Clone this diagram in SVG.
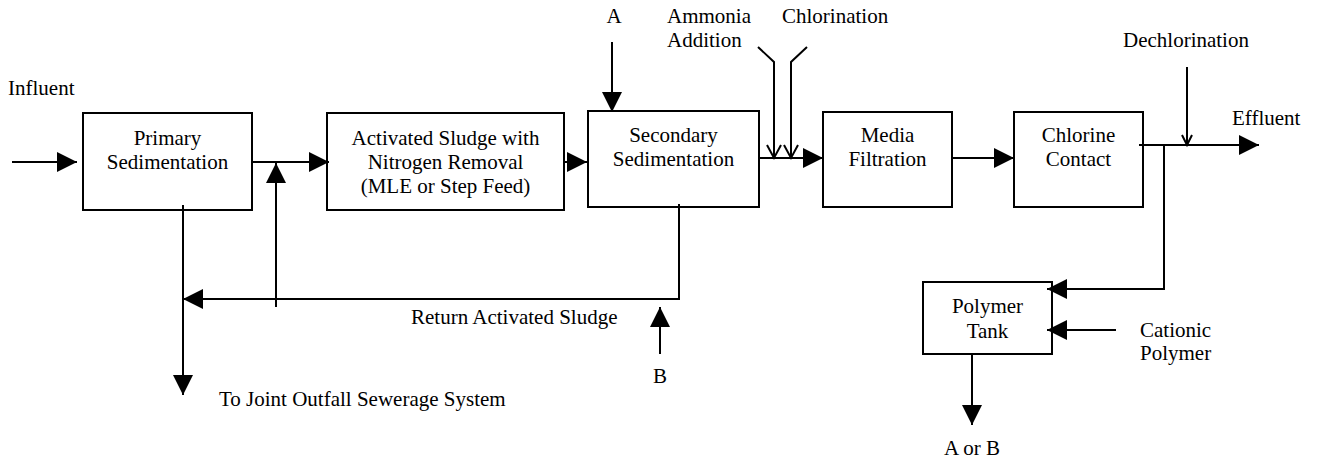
<svg xmlns="http://www.w3.org/2000/svg" width="1317" height="460" viewBox="0 0 1317 460">
<style>
.box{fill:#fff;stroke:#000;stroke-width:2}
.t{font-family:'Times New Roman','Liberation Serif','DejaVu Serif',serif;font-size:21px;fill:#000}
.c{text-anchor:middle}
.ln{fill:none;stroke:#000;stroke-width:2}
.arr{marker-end:url(#fa)}
.opn{marker-end:url(#oa)}
</style>
<defs>
<marker id="fa" markerUnits="userSpaceOnUse" markerWidth="21" markerHeight="21" refX="20" refY="10" orient="auto" overflow="visible">
<path d="M0,0 L20,10 L0,20 z" fill="#000"/>
</marker>
<marker id="oa" markerUnits="userSpaceOnUse" markerWidth="16" markerHeight="16" refX="13" refY="7" orient="auto" overflow="visible">
<path d="M0,0 L13,7 L0,14" fill="none" stroke="#000" stroke-width="2"/>
</marker>
<marker id="ob" markerUnits="userSpaceOnUse" markerWidth="12" markerHeight="12" refX="10" refY="5" orient="auto" overflow="visible">
<path d="M0,0 L10,5 L0,10" fill="none" stroke="#000" stroke-width="2"/>
</marker>
</defs>
<rect width="1317" height="460" fill="#fff"/>

<g id="primary">
<rect class="box" x="83" y="113" width="169" height="97"/>
<text class="t c" x="167.5" y="145">Primary</text>
<text class="t c" x="167.5" y="169">Sedimentation</text>
</g>
<g id="activated">
<rect class="box" x="327" y="113" width="237" height="97"/>
<text class="t c" x="445.5" y="145">Activated Sludge with</text>
<text class="t c" x="445.5" y="169">Nitrogen Removal</text>
<text class="t c" x="445.5" y="193">(MLE or Step Feed)</text>
</g>
<g id="secondary">
<rect class="box" x="588" y="111" width="171" height="96"/>
<text class="t c" x="673.5" y="142">Secondary</text>
<text class="t c" x="673.5" y="166">Sedimentation</text>
</g>
<g id="media">
<rect class="box" x="823" y="112" width="129" height="95"/>
<text class="t c" x="887.5" y="142">Media</text>
<text class="t c" x="887.5" y="166">Filtration</text>
</g>
<g id="chlorine">
<rect class="box" x="1014" y="112" width="129" height="95"/>
<text class="t c" x="1078.5" y="142">Chlorine</text>
<text class="t c" x="1078.5" y="166">Contact</text>
</g>
<g id="polymer">
<rect class="box" x="923" y="282" width="129" height="72"/>
<text class="t c" x="987.5" y="313">Polymer</text>
<text class="t c" x="987.5" y="338">Tank</text>
</g>

<g id="connectors">
<path class="ln arr" d="M12,162 L77,162"/>
<path class="ln arr" d="M252,162 L329,162"/>
<path class="ln arr" d="M276,307 L276,163"/>
<path class="ln arr" d="M564,162 L587,162"/>
<path class="ln arr" d="M612,42 L612,112"/>
<path class="ln arr" d="M759,158 L823,158"/>
<path class="ln opn" d="M758,47 L774,62 L774,158"/>
<path class="ln opn" d="M807,47 L791,62 L791,158"/>
<path class="ln arr" d="M952,158 L1014,158"/>
<path class="ln arr" d="M1139,145 L1259,145"/>
<path class="ln" d="M1187,67 L1187,145" marker-end="url(#ob)"/>
<path class="ln arr" d="M1164,145 L1164,289 L1047,289"/>
<path class="ln arr" d="M1116,330 L1047,330"/>
<path class="ln arr" d="M972,354 L972,425"/>
<path class="ln arr" d="M679,204 L679,299 L183,299"/>
<path class="ln arr" d="M183,205 L183,395"/>
<path class="ln arr" d="M660,354 L660,307"/>
</g>

<g id="labels">
<text class="t" x="8" y="95">Influent</text>
<text class="t c" x="614" y="23">A</text>
<text class="t" x="667" y="23">Ammonia</text>
<text class="t" x="667" y="47">Addition</text>
<text class="t" x="782" y="23">Chlorination</text>
<text class="t" x="1123" y="47">Dechlorination</text>
<text class="t" x="1232" y="125">Effluent</text>
<text class="t" x="1140" y="337">Cationic</text>
<text class="t" x="1140" y="360">Polymer</text>
<text class="t c" x="972" y="455">A or B</text>
<text class="t" x="411" y="324">Return Activated Sludge</text>
<text class="t c" x="660" y="383">B</text>
<text class="t" x="219" y="406">To Joint Outfall Sewerage System</text>
</g>
</svg>
